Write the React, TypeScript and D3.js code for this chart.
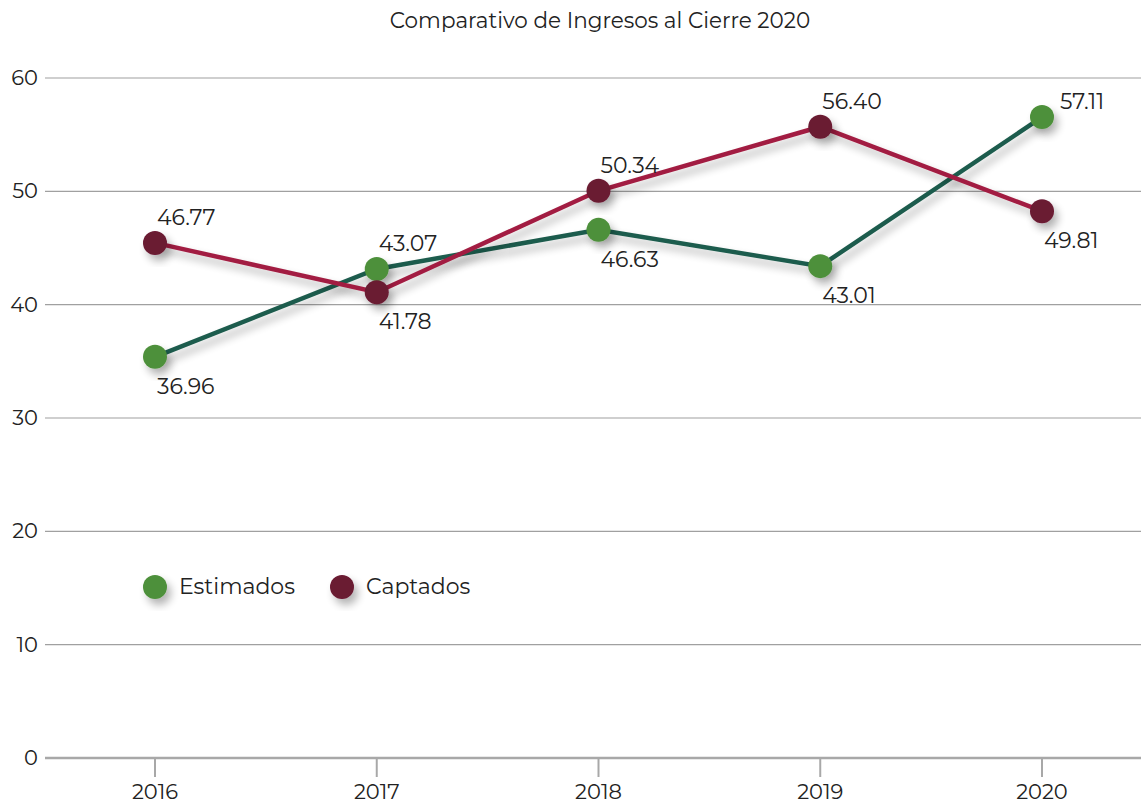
import React from "react";
import * as d3 from "d3";

const years = ["2016", "2017", "2018", "2019", "2020"];
const estimados = [35.4, 43.15, 46.6, 43.4, 56.55];
const captados = [45.45, 41.1, 50.05, 55.7, 48.25];
const estimadosLabels = ["36.96", "43.07", "46.63", "43.01", "57.11"];
const captadosLabels = ["46.77", "41.78", "50.34", "56.40", "49.81"];
const estimadosPlace = ["below", "above", "below", "below", "right"];
const captadosPlace = ["above", "below", "above", "above", "below"];
const yTicks = [0, 10, 20, 30, 40, 50, 60];
const title = "Comparativo de Ingresos al Cierre 2020";

const W = 1141;
const H = 803;
const FONT = "Montserrat, 'Noto Sans', 'DejaVu Sans', sans-serif";

export default function App() {
  const x = d3.scalePoint<string>().domain(years).range([155, 1042]);
  const y = d3.scaleLinear().domain([0, 60]).range([758, 78]);
  const line = d3
    .line<number>()
    .x((_, i) => x(years[i]) as number)
    .y((d) => y(d));

  const series = [
    { name: "Estimados", values: estimados, labels: estimadosLabels, place: estimadosPlace, line: "#1f5c4d", dot: "#4e903b" },
    { name: "Captados", values: captados, labels: captadosLabels, place: captadosPlace, line: "#a21f42", dot: "#6b1a33" },
  ];

  const offset = (p: string) => {
    if (p === "above") return { dx: 2, dy: -18 };
    if (p === "below") return { dx: 2, dy: 37 };
    return { dx: 18, dy: -8 };
  };

  return (
    <svg width={W} height={H} style={{ position: "absolute", left: 0, top: 0, background: "#fff" }} fontFamily={FONT}>
      <defs>
        <filter id="shadow" x="-50%" y="-50%" width="200%" height="200%">
          <feGaussianBlur in="SourceAlpha" stdDeviation="4" />
          <feOffset dx="4" dy="6" result="ob" />
          <feComponentTransfer>
            <feFuncA type="linear" slope="0.3" />
          </feComponentTransfer>
          <feMerge>
            <feMergeNode />
            <feMergeNode in="SourceGraphic" />
          </feMerge>
        </filter>
      </defs>
      <rect width={W} height={H} fill="#fff" />
      <text x={600} y={28} textAnchor="middle" fontSize={21.5} fill="#222">
        {title}
      </text>
      {yTicks.map((t) => (
        <g key={t}>
          <line
            x1={45}
            x2={W}
            y1={y(t)}
            y2={y(t)}
            stroke={t === 0 ? "#a8a8a8" : "#a0a0a0"}
            strokeWidth={t === 0 ? 2.5 : 1.2}
          />
          <text x={38} y={y(t) + 7} textAnchor="end" fontSize={21} fill="#222">
            {t}
          </text>
        </g>
      ))}
      {years.map((yr) => (
        <g key={yr}>
          <line x1={x(yr)} x2={x(yr)} y1={758} y2={777} stroke="#a8a8a8" strokeWidth={2} />
          <text x={x(yr)} y={799} textAnchor="middle" fontSize={21} fill="#222">
            {yr}
          </text>
        </g>
      ))}
      {series.map((s) => (
        <path key={s.name + "l"} d={line(s.values) || ""} fill="none" stroke={s.line} strokeWidth={4.5} filter="url(#shadow)" />
      ))}
      {series.map((s) => (
        <g key={s.name + "d"}>
          {s.values.map((v, i) => (
            <circle key={i} cx={x(years[i])} cy={y(v)} r={12} fill={s.dot} filter="url(#shadow)" />
          ))}
        </g>
      ))}
      {series.map((s) => (
        <g key={s.name + "t"}>
          {s.values.map((v, i) => {
            const o = offset(s.place[i]);
            return (
              <text key={i} x={(x(years[i]) as number) + o.dx} y={y(v) + o.dy} fontSize={22} fill="#222">
                {s.labels[i]}
              </text>
            );
          })}
        </g>
      ))}
      {series.map((s, i) => {
        const lx = i === 0 ? 155 : 342;
        return (
          <g key={s.name + "lg"}>
            <circle cx={lx} cy={587} r={12} fill={s.dot} filter="url(#shadow)" />
            <text x={lx + 24} y={594} fontSize={22} fill="#222">
              {s.name}
            </text>
          </g>
        );
      })}
    </svg>
  );
}
